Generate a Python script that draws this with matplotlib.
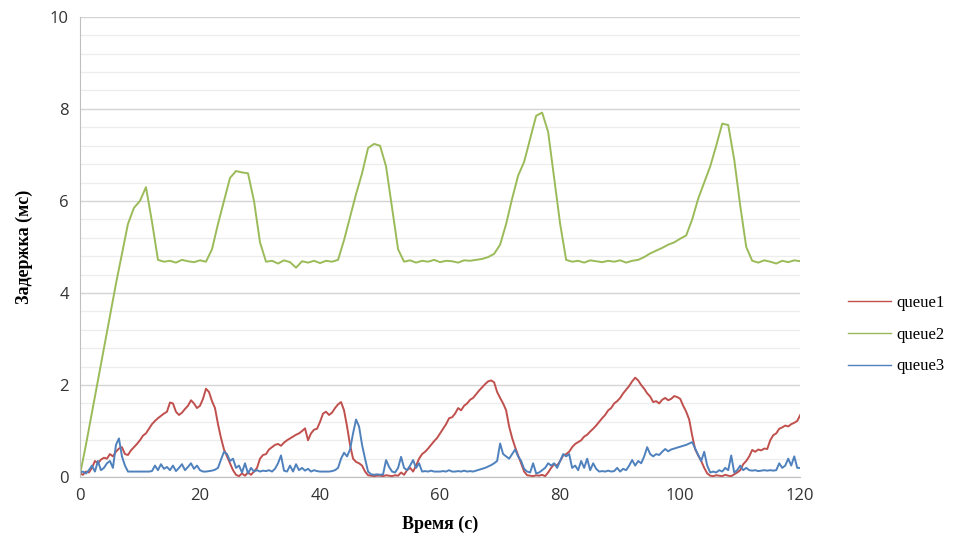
import numpy as np
import matplotlib
matplotlib.use("Agg")
import matplotlib.pyplot as plt
from matplotlib.ticker import MultipleLocator

# time grids (s)
t_green = np.arange(0, 121, 1.0)
t_fine = np.arange(0, 120.5, 0.5)

# queue2 - green, 1 s steps
queue2 = [
    0.05, 0.7, 1.4, 2.1, 2.8, 3.5, 4.2, 4.85, 5.5, 5.85,
    6.0, 6.3, 5.55, 4.72, 4.68, 4.7, 4.66, 4.72, 4.69, 4.67,
    4.71, 4.68, 4.95, 5.5, 6.0, 6.5, 6.65, 6.62, 6.6, 6.0,
    5.1, 4.68, 4.7, 4.64, 4.71, 4.67, 4.55, 4.69, 4.66, 4.7,
    4.65, 4.7, 4.68, 4.72, 5.15, 5.65, 6.15, 6.6, 7.15, 7.24,
    7.2, 6.75, 5.85, 4.95, 4.68, 4.71, 4.66, 4.7, 4.68, 4.72,
    4.67, 4.7, 4.69, 4.66, 4.71, 4.7, 4.72, 4.74, 4.78, 4.85,
    5.05, 5.5, 6.05, 6.55, 6.85, 7.35, 7.85, 7.92, 7.5, 6.5,
    5.5, 4.72, 4.68, 4.7, 4.66, 4.71, 4.69, 4.67, 4.7, 4.68,
    4.71, 4.66, 4.7, 4.72, 4.78, 4.86, 4.92, 4.98, 5.05, 5.1,
    5.18, 5.25, 5.6, 6.05, 6.4, 6.75, 7.2, 7.68, 7.65, 6.9,
    5.9, 5.0, 4.7, 4.66, 4.71, 4.68, 4.64, 4.7, 4.67, 4.71,
    4.69,
]

# queue1 - red, 0.5 s steps
queue1 = [
    0.08, 0.05, 0.12, 0.1, 0.2, 0.35, 0.3, 0.38, 0.42, 0.4,
    0.5, 0.45, 0.55, 0.62, 0.65, 0.5, 0.48, 0.58, 0.65, 0.72,
    0.8, 0.9, 0.95, 1.05, 1.15, 1.22, 1.28, 1.33, 1.38, 1.42,
    1.62, 1.6, 1.42, 1.35, 1.4, 1.48, 1.55, 1.67, 1.6, 1.5,
    1.55, 1.7, 1.92, 1.85, 1.65, 1.5, 1.15, 0.85, 0.6, 0.45,
    0.3, 0.15, 0.05, 0.02, 0.08, 0.03, 0.1, 0.05, 0.12, 0.2,
    0.4, 0.48, 0.5, 0.6, 0.65, 0.7, 0.72, 0.68, 0.75, 0.8,
    0.84, 0.88, 0.92, 0.95, 1.0, 1.06, 0.8, 0.95, 1.03, 1.05,
    1.2, 1.38, 1.42, 1.35, 1.4, 1.5, 1.58, 1.63, 1.45, 1.1,
    0.7, 0.4, 0.33, 0.3, 0.25, 0.12, 0.04, 0.03, 0.02, 0.03,
    0.03, 0.02, 0.04, 0.03, 0.02, 0.04, 0.03, 0.1, 0.05, 0.15,
    0.2, 0.12, 0.25, 0.4, 0.5, 0.55, 0.62, 0.7, 0.78, 0.85,
    0.95, 1.05, 1.15, 1.28, 1.3, 1.38, 1.5, 1.45, 1.55, 1.6,
    1.68, 1.72, 1.8, 1.88, 1.95, 2.02, 2.08, 2.1, 2.06, 1.85,
    1.72, 1.6, 1.45, 1.1, 0.85, 0.65, 0.47, 0.3, 0.12, 0.04,
    0.03, 0.02, 0.04, 0.03, 0.05, 0.02, 0.1, 0.2, 0.28, 0.25,
    0.35, 0.47, 0.5, 0.55, 0.65, 0.72, 0.76, 0.8, 0.88, 0.92,
    0.99, 1.05, 1.12, 1.2, 1.28, 1.35, 1.45, 1.5, 1.6, 1.65,
    1.72, 1.82, 1.9, 1.98, 2.08, 2.16, 2.1, 2.0, 1.92, 1.82,
    1.75, 1.63, 1.65, 1.6, 1.68, 1.72, 1.67, 1.7, 1.76, 1.74,
    1.7, 1.55, 1.42, 1.25, 0.9, 0.6, 0.47, 0.35, 0.2, 0.08,
    0.03, 0.02, 0.04, 0.03, 0.02, 0.05, 0.03, 0.02, 0.06, 0.1,
    0.15, 0.28, 0.35, 0.45, 0.59, 0.55, 0.6, 0.58, 0.62, 0.61,
    0.8, 0.91, 0.95, 1.05, 1.08, 1.12, 1.1, 1.15, 1.18, 1.22,
    1.35,
]

# queue3 - blue, 0.5 s steps
queue3 = [
    0.1, 0.12, 0.08, 0.15, 0.25, 0.12, 0.35, 0.15, 0.2, 0.3,
    0.35, 0.2, 0.7, 0.84, 0.45, 0.25, 0.12, 0.12, 0.12, 0.12,
    0.12, 0.12, 0.12, 0.12, 0.13, 0.25, 0.15, 0.28, 0.18, 0.22,
    0.15, 0.25, 0.13, 0.2, 0.28, 0.15, 0.22, 0.3, 0.18, 0.25,
    0.15, 0.12, 0.12, 0.13, 0.14, 0.16, 0.2, 0.38, 0.55, 0.5,
    0.35, 0.4, 0.2, 0.25, 0.1, 0.3, 0.08, 0.2, 0.12, 0.15,
    0.12, 0.14, 0.13, 0.15, 0.12, 0.18, 0.3, 0.47, 0.14, 0.12,
    0.25, 0.12, 0.28, 0.15, 0.2, 0.14, 0.18, 0.12, 0.15, 0.13,
    0.12, 0.12, 0.12, 0.12, 0.13, 0.15, 0.2, 0.4, 0.53, 0.45,
    0.6, 0.95, 1.25, 1.1, 0.7, 0.4, 0.12, 0.06, 0.05, 0.06,
    0.05, 0.06, 0.37, 0.22, 0.12, 0.1, 0.2, 0.44, 0.2, 0.15,
    0.25, 0.37, 0.2, 0.3, 0.12, 0.13, 0.12, 0.14, 0.12, 0.12,
    0.12, 0.13, 0.12, 0.15, 0.12, 0.12, 0.13, 0.12, 0.14, 0.12,
    0.13, 0.12, 0.14, 0.16, 0.18, 0.2, 0.23, 0.26, 0.3, 0.35,
    0.73, 0.5, 0.45, 0.4, 0.5, 0.6, 0.45, 0.35, 0.18, 0.12,
    0.1, 0.3, 0.08, 0.1, 0.15, 0.2, 0.3, 0.25, 0.3, 0.2,
    0.35, 0.5, 0.45, 0.5, 0.2, 0.25, 0.15, 0.35, 0.2, 0.4,
    0.15, 0.3, 0.18, 0.12, 0.13, 0.12, 0.14, 0.12, 0.13, 0.2,
    0.12, 0.18, 0.15, 0.25, 0.37, 0.25, 0.35, 0.3, 0.45, 0.65,
    0.5, 0.45, 0.5, 0.48, 0.55, 0.61, 0.56, 0.6, 0.62, 0.64,
    0.66, 0.68, 0.7, 0.73, 0.76, 0.62, 0.48, 0.35, 0.55, 0.25,
    0.1, 0.12, 0.1, 0.15, 0.12, 0.2, 0.15, 0.47, 0.1, 0.15,
    0.25, 0.15, 0.2, 0.15, 0.14, 0.15, 0.13, 0.14, 0.15, 0.14,
    0.15, 0.14, 0.15, 0.3, 0.2, 0.25, 0.4, 0.25, 0.45, 0.2,
    0.2,
]

x_ticks = [0, 20, 40, 60, 80, 100, 120]
y_ticks = [0, 2, 4, 6, 8, 10]

fig = plt.figure(figsize=(9.63, 5.44), dpi=100)
ax = fig.add_axes([0.083, 0.123, 0.748, 0.846])

# grid: major every 2, minor every 0.4
ax.yaxis.set_minor_locator(MultipleLocator(0.4))
ax.grid(True, which="minor", axis="y", color="#EDEDED", linewidth=0.9)
ax.grid(True, which="major", axis="y", color="#D4D4D4", linewidth=1.0)
ax.set_axisbelow(True)

ax.plot(t_fine, queue1, color="#C0504D", lw=1.4, label="queue1")
ax.plot(t_green, queue2, color="#9BBB59", lw=1.4, label="queue2")
ax.plot(t_fine, queue3, color="#4F81BD", lw=1.4, label="queue3")

ax.set_xlim(0, 120)
ax.set_ylim(0, 10)
ax.set_xticks(x_ticks)
ax.set_yticks(y_ticks)
ax.tick_params(axis="both", which="both", length=0, labelsize=12,
               labelcolor="#333333", pad=8)
for lab in ax.get_xticklabels() + ax.get_yticklabels():
    lab.set_family("Open Sans")

for side in ["top", "right"]:
    ax.spines[side].set_visible(False)
ax.spines["left"].set_color("#BFBFBF")
ax.spines["bottom"].set_color("#BFBFBF")

ax.set_xlabel("Время (с)", family="Liberation Serif", fontweight="bold",
              fontsize=13, labelpad=8)
ax.set_ylabel("Задержка (мс)", family="Liberation Serif", fontweight="bold",
              fontsize=13, labelpad=12)

leg = fig.legend(loc="center left", bbox_to_anchor=(0.865, 0.385),
                 frameon=False, prop={"family": "Liberation Serif", "size": 12},
                 handlelength=2.6, labelspacing=0.95, handletextpad=0.3)
for line in leg.get_lines():
    line.set_linewidth(1.0)

fig.savefig("out.png", dpi=100)
